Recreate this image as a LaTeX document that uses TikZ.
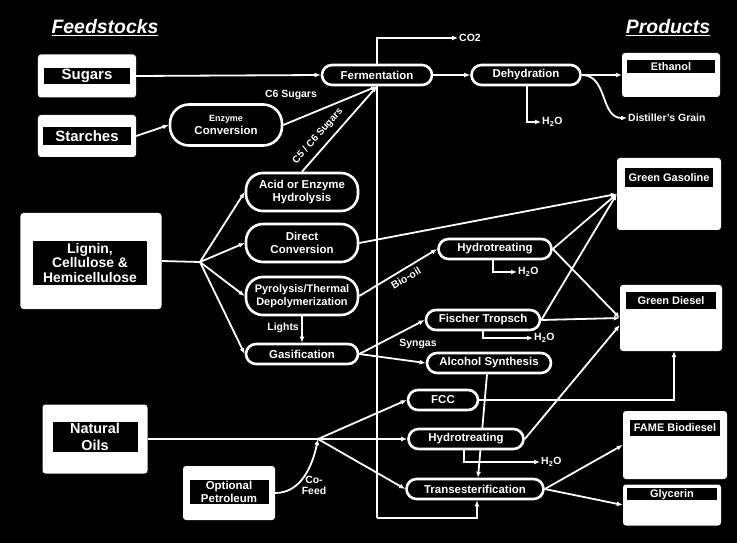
\documentclass[tikz,border=0pt]{standalone}
\usepackage{fontspec}
\setmainfont{Liberation Sans}
\usetikzlibrary{arrows.meta, positioning, calc}
\tikzset{
    feedbox/.style={rectangle, fill=white, rounded corners=3bp, inner sep=0pt},
    band/.style={rectangle, fill=black, text=white, align=center, inner sep=0pt},
    proc/.style={rectangle, draw=white, line width=2.6bp, fill=black, text=white, rounded corners=10bp, align=center, inner sep=0pt, minimum height=20bp, font=\bfseries\fontsize{11.5}{13}\selectfont},
    tallproc/.style={proc, minimum width=112bp, minimum height=38bp, rounded corners=17bp},
    note/.style={text=white, inner sep=1bp, align=center, font=\bfseries\fontsize{10.5}{11}\selectfont},
    title/.style={text=white, font=\bfseries\itshape\fontsize{19.5}{21}\selectfont},
    arrow/.style={-{Latex[length=6bp, width=5bp]}, draw=white, line width=1.8bp},
    wire/.style={draw=white, line width=1.8bp}
}

\begin{document}
\begin{tikzpicture}[x=1bp, y=-1bp]
    \fill[black] (0,0) rectangle (737,543);
    \useasboundingbox (0,0) rectangle (737,543);

    % titles
    \node[title] (tfeed) at (105,28) {\underline{Feedstocks}};
    \node[title] (tprod) at (668,28) {\underline{Products}};

    % feedstocks
    \node[feedbox, minimum width=98bp, minimum height=43bp] (sugars) at (87,76) {};
    \node[band, minimum width=86bp, minimum height=16bp, font=\bfseries\fontsize{15}{16}\selectfont] (sugarst) at (sugars) {Sugars};
    \node[feedbox, minimum width=98bp, minimum height=42bp] (starches) at (87,136) {};
    \node[band, minimum width=88bp, minimum height=18bp, font=\bfseries\fontsize{15}{16}\selectfont] (starchest) at (starches) {Starches};
    \node[feedbox, minimum width=141bp, minimum height=96bp] (lignin) at (91,261) {};
    \node[band, minimum width=114bp, minimum height=44bp, font=\bfseries\fontsize{14}{15}\selectfont] (lignint) at (90,263) {Lignin,\\Cellulose \&\\Hemicellulose};
    \node[feedbox, minimum width=105bp, minimum height=69bp] (oils) at (95,439) {};
    \node[band, minimum width=85bp, minimum height=30bp, font=\bfseries\fontsize{14.5}{17}\selectfont] (oilst) at (95,437) {Natural\\Oils};
    \node[feedbox, minimum width=92bp, minimum height=54bp] (petro) at (229,493) {};
    \node[band, minimum width=79bp, minimum height=24bp, font=\bfseries\fontsize{11.5}{13}\selectfont] (petrot) at (229,492) {Optional\\Petroleum};

    % products
    \node[feedbox, minimum width=98bp, minimum height=44bp] (eth) at (671,75) {};
    \node[band, minimum width=88bp, minimum height=13bp, font=\bfseries\fontsize{11}{12}\selectfont] (etht) at ([yshift=-13.5bp]eth.north) {Ethanol};
    \node[feedbox, minimum width=104bp, minimum height=72bp] (gas) at (669,194) {};
    \node[band, minimum width=88bp, minimum height=19bp, font=\bfseries\fontsize{11}{12}\selectfont] (gast) at ([yshift=-20bp]gas.north) {Green Gasoline};
    \node[feedbox, minimum width=102bp, minimum height=66bp] (diesel) at (671,318) {};
    \node[band, minimum width=90bp, minimum height=17bp, font=\bfseries\fontsize{11}{12}\selectfont] (dieselt) at ([yshift=-16bp]diesel.north) {Green Diesel};
    \node[feedbox, minimum width=104bp, minimum height=68bp] (fame) at (675,445) {};
    \node[band, minimum width=90bp, minimum height=16bp, font=\bfseries\fontsize{11}{12}\selectfont] (famet) at ([yshift=-17bp]fame.north) {FAME Biodiesel};
    \node[feedbox, minimum width=98bp, minimum height=41bp] (glyc) at (672,505) {};
    \node[band, minimum width=90bp, minimum height=12bp, font=\bfseries\fontsize{11}{12}\selectfont] (glyct) at ([yshift=-10bp]glyc.north) {Glycerin};

    % processes
    \node[proc, minimum width=110bp] (ferm) at (377,75) {Fermentation};
    \node[proc, minimum width=109bp] (dehyd) at (526,75) {Dehydration};
    \node[proc, minimum width=112bp, minimum height=41bp, rounded corners=19bp] (enzyme) at (226,125) {{\fontsize{9}{10}\selectfont Enzyme}\\Conversion};
    \node[tallproc] (acid) at (302,192) {Acid or Enzyme\\Hydrolysis};
    \node[tallproc] (direct) at (302,243) {Direct\\Conversion};
    \node[tallproc, font=\bfseries\fontsize{11}{13}\selectfont] (pyro) at (302,296) {Pyrolysis/Thermal\\Depolymerization};
    \node[proc, minimum width=112bp] (gasif) at (302,354) {Gasification};
    \node[proc, minimum width=113bp] (hydroa) at (495,249) {Hydrotreating};
    \node[proc, minimum width=114bp] (ft) at (483,320) {Fischer Tropsch};
    \node[proc, minimum width=124bp] (alc) at (489,363) {Alcohol Synthesis};
    \node[proc, minimum width=70bp] (fcc) at (443,400) {FCC};
    \node[proc, minimum width=137bp] (trans) at (475,489) {Transesterification};
    \draw[arrow] ([xshift=-2bp]alc.south) -- ([xshift=3bp]trans.north);
    \node[proc, minimum width=115bp] (hydrob) at (466,439) {Hydrotreating};

    % labels
    \node[note, anchor=west] (co2) at (458,38) {CO2};
    \node[note, anchor=west] (wa) at (541,122) {H\textsubscript{2}O};
    \node[note, anchor=west] (dg) at (627,118) {Distiller's Grain};
    \node[note] (c6) at (291,95) {C6 Sugars};
    \node[note, rotate=48.6, font=\bfseries\fontsize{10}{11}\selectfont] (c5) at (318,136) {C5 / C6 Sugars};
    \node[note, anchor=east] (lights) at (300,328) {Lights};
    \node[note, anchor=west] (wb) at (517,272) {H\textsubscript{2}O};
    \node[note, rotate=30.7] (biooil) at (406,278) {Bio-oil};
    \node[note] (syngas) at (418,344) {Syngas};
    \node[note, anchor=west] (wc) at (533,338) {H\textsubscript{2}O};
    \node[note, anchor=west] (wd) at (540,462) {H\textsubscript{2}O};
    \node[note] (cofeed) at (314,485) {Co-\\Feed};

    \coordinate (lsplit) at (200,262);
    \coordinate (osplit) at (318,439);
    \coordinate (spinebot) at (377,518);

    % sugar route
    \draw[arrow] (sugars.east) -- (ferm.west);
    \draw[arrow] (starches.east) -- (enzyme.west);
    \draw[arrow] (enzyme.east) -- (ferm.south);
    \draw[arrow] (acid.north) -- (ferm.south);
    \draw[arrow] (ferm.north) |- (co2.west);
    \draw[wire] (ferm.south) -- (spinebot);
    \draw[arrow] (spinebot) -| ([xshift=2bp]trans.south);
    \draw[arrow] (ferm.east) -- (dehyd.west);
    \draw[arrow] (dehyd.east) -- (eth.west);
    \draw[arrow] ([xshift=1bp]dehyd.south) |- (wa.west);
    \draw[arrow] (dehyd.east) .. controls (608,75) and (600,118) .. (dg.west);

    % lignocellulose
    \draw[wire] (lignin.east) -- (lsplit);
    \foreach \p in {acid, direct, pyro, gasif}
        \draw[arrow] (lsplit) -- (\p.west);
    \draw[arrow] (pyro.south) -- (gasif.north);
    \draw[arrow] (direct.east) -- (gas.west);
    \draw[arrow] (pyro.east) -- (hydroa.west);
    \draw[arrow] (hydroa.east) -- (gas.west);
    \draw[arrow] (hydroa.east) -- (diesel.west);
    \draw[arrow] ([xshift=-2bp]hydroa.south) |- (wb.west);
    \draw[arrow] (gasif.east) -- (ft.west);
    \draw[arrow] (gasif.east) -- (alc.west);
    \draw[arrow] (ft.east) -- (gas.west);
    \draw[arrow] (ft.east) -- (diesel.west);
    \draw[arrow] (ft.south) |- (wc.west);

    % oils
    \draw[wire] (oils.east) -- (osplit);
    \draw[arrow] (petro.east) .. controls (300,493) and (312,468) .. (osplit);
    \foreach \p in {fcc, hydrob, trans}
        \draw[arrow] (osplit) -- (\p.west);
    \draw[arrow] (fcc.east) -| ([xshift=3bp]diesel.south);
    \draw[arrow] (hydrob.east) -- ([yshift=-7bp]diesel.west);
    \draw[arrow] ([xshift=-2bp]hydrob.south) |- (wd.west);
    \draw[arrow] (trans.east) -- (fame.west);
    \draw[arrow] (trans.east) -- (glyc.west);
\end{tikzpicture}
\end{document}
